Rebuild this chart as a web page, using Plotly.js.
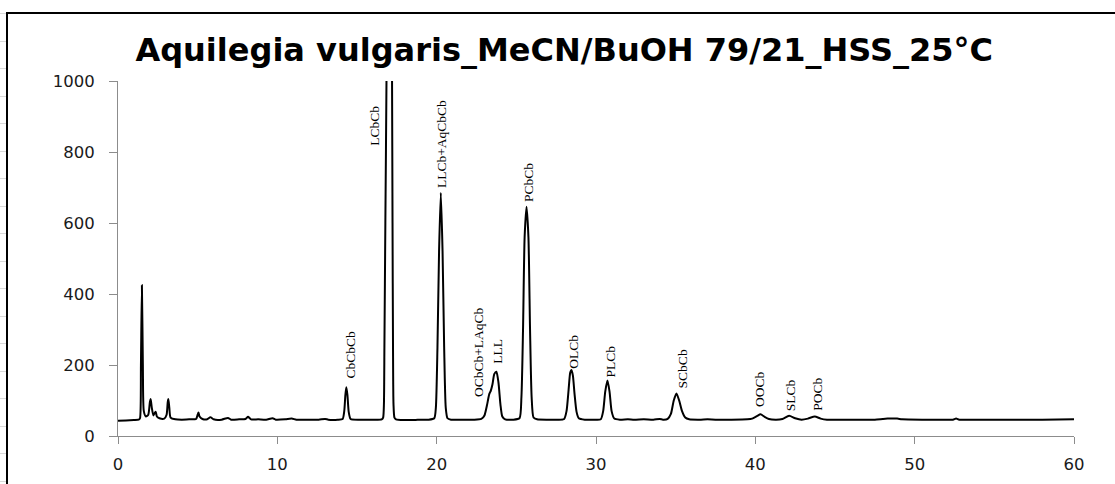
<!DOCTYPE html>
<html>
<head>
<meta charset="utf-8">
<script src="https://cdn.plot.ly/plotly-3.0.1.min.js"></script>
<style>
  html, body { margin: 0; padding: 0; background: #ffffff; }
  #wrap { position: relative; width: 1115px; height: 484px; overflow: hidden; background: #ffffff; }
  #rows { position: absolute; left: 0; top: 0; width: 7px; height: 484px;
          background: repeating-linear-gradient(to bottom, transparent 0px, transparent 13px, #d9d9d9 13px, #d9d9d9 14px, transparent 14px, transparent 27.5px); }
  #frame { position: absolute; left: 6px; top: 12px; width: 1200px; height: 600px;
           border-left: 2px solid #000; border-top: 2px solid #000; background: #fff; }
  #chart { position: absolute; left: 0; top: 0; width: 1115px; height: 484px; }
</style>
</head>
<body>
<div id="wrap">
  <div id="rows"></div>
  <div id="frame"></div>
  <div id="chart"></div>
</div>
<script>
// Retention time (min) and detector signal
const time = [
  0, 0.5, 1.0, 1.3,
  1.38, 1.44, 1.5, 1.56, 1.62, 1.75,
  1.9, 2.0, 2.05, 2.12, 2.22, 2.32, 2.37, 2.44, 2.6, 2.9,
  3.05, 3.12, 3.16, 3.22, 3.3, 3.6, 4.0, 4.5, 4.9,
  5.0, 5.05, 5.12, 5.3, 5.6, 5.8, 6.0, 6.5, 6.9, 7.1, 7.6, 8.0, 8.16, 8.35, 8.8,
  9.3, 9.7, 9.9, 10.5, 10.9, 11.2, 12.0, 12.6, 13.0, 13.2, 13.8,
  14.1, 14.2, 14.27, 14.33, 14.4, 14.48, 14.6, 15.2, 15.9,
  16.55, 16.64, 16.69, 16.72, 16.78, 16.85, 16.93, 17.03, 17.12, 17.2, 17.23, 17.26, 17.29, 17.35, 17.45,
  18.0, 18.6, 19.0, 19.5,
  19.85, 19.95, 20.05, 20.15, 20.26, 20.37, 20.47, 20.57, 20.68, 20.9,
  21.5, 22.3, 22.8, 23.0, 23.15, 23.3, 23.4, 23.5, 23.62, 23.75, 23.88, 24.0, 24.12, 24.3, 24.8,
  25.2, 25.32, 25.42, 25.52, 25.64, 25.76, 25.86, 25.96, 26.08, 26.3, 27.0, 27.6,
  28.0, 28.15, 28.28, 28.38, 28.46, 28.55, 28.65, 28.78, 28.92, 29.3, 29.9,
  30.3, 30.45, 30.58, 30.72, 30.85, 30.98, 31.15, 31.5, 32.0, 32.4, 33.0, 33.6, 34.0, 34.2,
  34.5, 34.7, 34.88, 35.05, 35.22, 35.4, 35.6, 35.85, 36.5, 37.0, 37.5, 38.5, 39.5,
  39.8, 40.1, 40.33, 40.55, 40.85, 41.3,
  41.7, 42.12, 42.5, 42.9,
  43.3, 43.73, 44.1, 44.5, 45.5, 46.5, 47.5, 48.0, 48.3, 48.9, 49.2, 50.5, 51.5,
  52.4, 52.6, 52.8, 54, 56, 58, 60
];
const signal = [
  43, 44, 45, 46,
  50, 200, 425, 200, 70, 55,
  60, 95, 104, 80, 58, 66, 68, 55, 50, 49,
  60, 95, 104, 80, 52, 47, 46, 47, 48,
  60, 66, 55, 48, 47, 53, 47, 46, 51, 46, 47, 48, 54, 47, 47,
  46, 50, 46, 47, 49, 46, 46, 46, 48, 46, 46,
  48, 70, 115, 137, 115, 68, 48, 46, 46,
  47, 52, 90, 250, 600, 1000, 1800, 2600, 1800, 1000, 600, 250, 90, 52, 47,
  45, 45, 46, 46,
  50, 80, 250, 520, 685, 520, 250, 80, 50, 46,
  46, 46, 48, 58, 85, 118, 128, 145, 175, 181, 150, 90, 55, 47, 46,
  50, 110, 300, 560, 646, 560, 300, 110, 52, 47, 46, 46,
  48, 70, 130, 178, 186, 170, 120, 68, 50, 46, 46,
  47, 70, 125, 156, 125, 70, 49, 46, 47, 46, 47, 46, 48, 46,
  48, 62, 100, 120, 100, 70, 52, 47, 46, 47, 46, 46, 47,
  49, 56, 61, 55, 48, 46,
  48, 57, 50, 46,
  49, 55, 49, 46, 46, 46, 46, 48, 49, 49, 47, 46, 46,
  46, 49, 46, 46, 46, 46, 47
];

// Peak labels and where they sit (time, signal at label foot)
const peakLabels  = ['CbCbCb', 'LCbCb', 'LLCb+AqCbCb', 'OCbCb+LAqCb', 'LLL', 'PCbCb', 'OLCb', 'PLCb', 'SCbCb', 'OOCb', 'SLCb', 'POCb'];
const labelTime   = [14.6, 16.05, 20.26, 22.6, 23.8, 25.8, 28.6, 30.9, 35.4, 40.3, 42.2, 43.9];
const labelSignal = [158, 814, 695, 107, 200, 655, 186, 163, 130, 79, 68, 68];

const xTicks = [0, 10, 20, 30, 40, 50, 60];
const yTicks = [0, 200, 400, 600, 800, 1000];

const chartTitle = 'Aquilegia vulgaris_MeCN/BuOH 79/21_HSS_25°C';

const trace = {
  x: time, y: signal, type: 'scatter', mode: 'lines',
  line: { color: '#000000', width: 2, shape: 'spline', smoothing: 0.6 },
  hoverinfo: 'x+y', showlegend: false
};

const annotations = peakLabels.map((t, i) => ({
  x: labelTime[i], y: labelSignal[i], xref: 'x', yref: 'y',
  text: t, showarrow: false, textangle: -90,
  xanchor: 'center', yanchor: 'bottom',
  font: { family: 'Liberation Serif, Times New Roman, serif', size: 13.5, color: '#000' },
  borderpad: 0
}));

const axisFont = { family: 'DejaVu Sans, sans-serif', size: 16.5, color: '#1a1a1a' };

const layout = {
  width: 1115, height: 484,
  paper_bgcolor: 'rgba(0,0,0,0)', plot_bgcolor: 'rgba(0,0,0,0)',
  margin: { l: 118, r: 41, t: 81, b: 48 },
  title: {
    text: '<b>' + chartTitle + '</b>',
    font: { family: 'DejaVu Sans, sans-serif', size: 32, color: '#000' },
    x: 0.506, xref: 'container', xanchor: 'center',
    y: 1 - 50 / 484, yref: 'container', yanchor: 'middle'
  },
  xaxis: {
    range: [0, 60], tickvals: xTicks, ticktext: xTicks.map(String),
    showline: true, linecolor: '#8c8c8c', linewidth: 1,
    ticks: 'outside', ticklen: 7, tickcolor: '#8c8c8c', tickwidth: 1,
    showgrid: false, zeroline: false, tickfont: axisFont, ticklabelstandoff: 6,
    fixedrange: true
  },
  yaxis: {
    range: [0, 1000], tickvals: yTicks, ticktext: yTicks.map(String),
    showline: true, linecolor: '#8c8c8c', linewidth: 1,
    ticks: 'outside', ticklen: 8, tickcolor: '#8c8c8c', tickwidth: 1,
    showgrid: false, zeroline: false, tickfont: axisFont, ticklabelstandoff: 11,
    fixedrange: true
  },
  annotations: annotations
};

Plotly.newPlot('chart', [trace], layout, { displayModeBar: false, staticPlot: true });
</script>
</body>
</html>
